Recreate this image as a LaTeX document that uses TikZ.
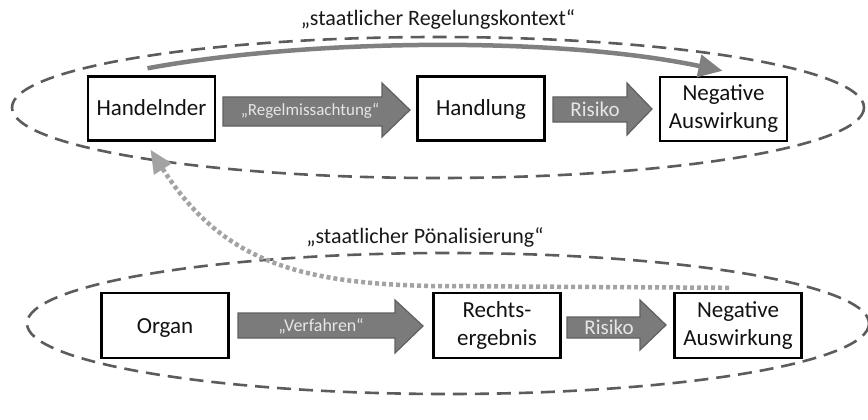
\documentclass[tikz,border=0pt]{standalone}
\usepackage{fontspec}
\setmainfont{Carlito}
\usetikzlibrary{arrows.meta,calc}

\definecolor{ringgray}{HTML}{5C5C5C}
\definecolor{flowgray}{HTML}{7B7B7B}
\definecolor{flowedge}{HTML}{606060}
\definecolor{flowtext}{HTML}{E6E6E6}
\definecolor{linkgray}{HTML}{808080}
\definecolor{feedgray}{HTML}{A3A3A3}

% block arrow: tail x, head-base x, tip x, shaft top/bottom y, head top/bottom y, tip y
\newcommand\blockarrow[8]{%
  \draw[blockarrow] (#1,#4) -- (#2,#4) -- (#2,#6) -- (#3,#8) -- (#2,#7) -- (#2,#5) -- (#1,#5) -- cycle;}

\begin{document}
\begin{tikzpicture}[x=1pt,y=-1pt,
  ring/.style={draw=ringgray, line width=2.6pt, dash pattern=on 14pt off 8pt},
  stepbox/.style={draw=black, line width=2.4pt, fill=white, minimum width=127pt,
    minimum height=64pt, align=center, inner sep=2pt,
    font=\fontsize{23}{28}\selectfont, text=black!93},
  oneline/.style={stepbox, text height=15pt, text depth=0pt},
  blockarrow/.style={fill=flowgray, draw=flowedge, line width=1.2pt, line join=miter},
  flowlabel/.style={text=flowtext, inner sep=0pt},
  heading/.style={font=\fontsize{22}{26}\selectfont, text=black!90, inner sep=0pt},
  link/.style={draw=linkgray, line width=4.5pt,
    -{Triangle[length=24pt,width=22pt]}},
  feedback/.style={draw=feedgray, line width=4.5pt, dash pattern=on 4pt off 3pt,
    -{Triangle[length=23pt,width=20pt]}}]

\fill[white] (0,0) rectangle (868,420);
\useasboundingbox (0,0) rectangle (868,420);

% the two contexts
\draw[ring] (438,107.5) ellipse [x radius=426, y radius=70.5];
\draw[ring] (448,323.5) ellipse [x radius=421, y radius=70.5];

\node[heading] (ctxtop) at (438,19) {„staatlicher Regelungskontext“};
\node[heading] (ctxbot) at (425,237) {„staatlicher Pönalisierung“};

% upper chain
\node[oneline] (hand) at (151.5,108.5) {Handelnder};
\node[oneline] (act)  at (481,108.5) {Handlung};
\node[stepbox] (neg1) at (723.5,109) {Negative\\Auswirkung};

\blockarrow{223}{382}{410}{97}{126}{83}{137}{110}
\node[flowlabel, font=\fontsize{17}{20}\selectfont] (lbla) at (310,111) {„Regelmissachtung“};
\blockarrow{553}{627}{652}{97}{122}{83}{135}{109}
\node[flowlabel, font=\fontsize{21}{24}\selectfont] (lblb) at (595,109.5) {Risiko};

% lower chain
\node[oneline, minimum height=65pt] (organ) at (165,325.5) {Organ};
\node[stepbox, minimum height=65pt] (recht) at (497,325.5) {Rechts-\\ergebnis};
\node[stepbox, minimum height=65pt] (neg2)  at (738,325.5) {Negative\\Auswirkung};

\blockarrow{238}{395}{423}{313}{338}{300}{353}{326}
\node[flowlabel, font=\fontsize{18}{21}\selectfont] (lblc) at (321,326) {„Verfahren“};
\blockarrow{567}{640}{666}{317}{338}{300}{350}{325}
\node[flowlabel, font=\fontsize{21}{24}\selectfont] (lbld) at (609,327) {Risiko};

% direct link from actor to negative effect
\coordinate (linkA) at ($(hand.north)+(-4,-7)$);
\coordinate (linkB) at ($(neg1.north)+(-1,-5)$);
\draw[link] (linkA) .. controls (300,40) and (550,35) .. (linkB);

% feedback from sanction back to the actor
\coordinate (fbA) at ($(neg2.north)+(-9,-4)$);
\coordinate (fbM) at (430,286);
\coordinate (fbB) at ($(hand.south)+(-1,8)$);
\draw[feedback] (fbA) -- (fbM) .. controls (300,283) and (222,262) .. (fbB);

\end{tikzpicture}
\end{document}
